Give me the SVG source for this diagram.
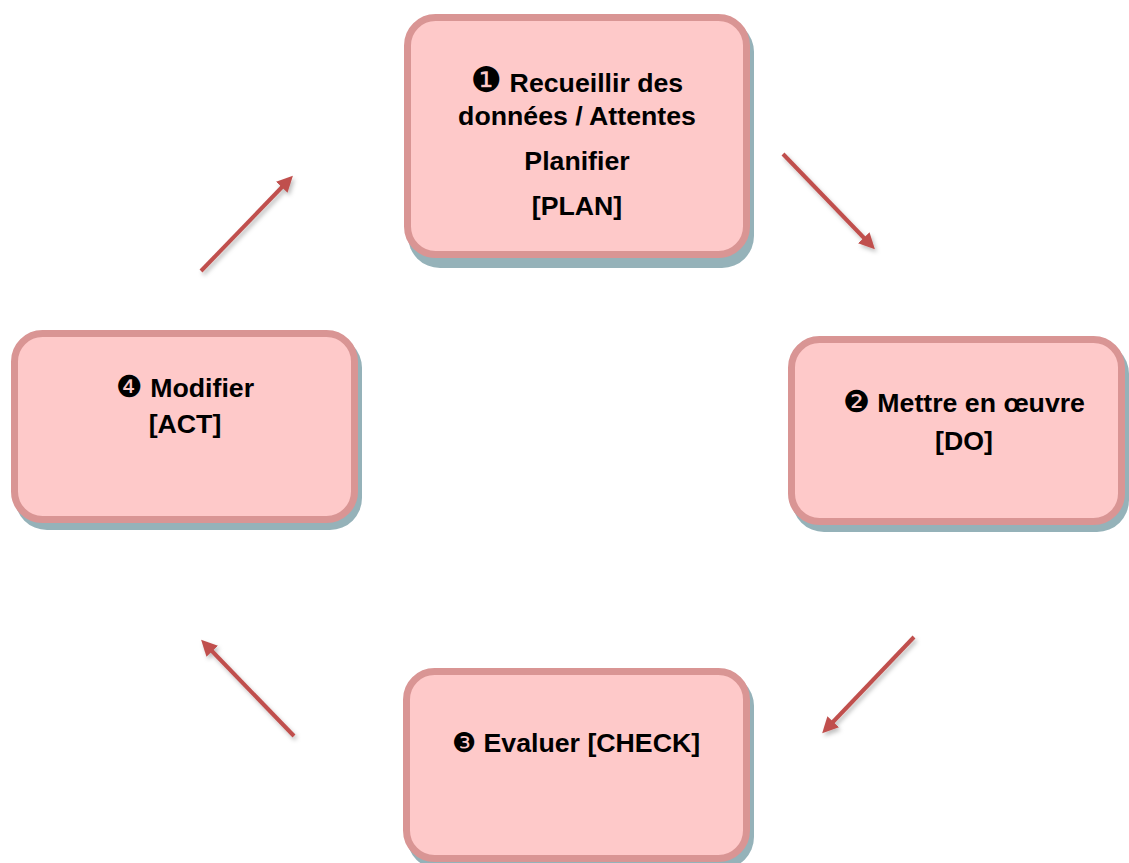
<svg xmlns="http://www.w3.org/2000/svg" width="1129" height="863" viewBox="0 0 1129 863">
<style>
.shadow{fill:#95B2B9;}
.box{fill:#FEC9C9;stroke:#D99594;stroke-width:7;}
.lbl{font-family:"Liberation Sans",Arial,sans-serif;font-weight:bold;font-size:26.7px;fill:#000;text-anchor:middle;}
.num{font-family:"DejaVu Sans",sans-serif;font-weight:normal;}
.arrow{fill:none;stroke:#C0504D;stroke-width:4;marker-end:url(#ah);filter:url(#ashadow);}
</style>
<defs>
<marker id="ah" viewBox="0 0 10 10" refX="2" refY="5" markerWidth="4" markerHeight="4" orient="auto">
<path d="M0,0 L10,5 L0,10 z" fill="#C0504D"/>
</marker>
<filter id="ashadow" x="-20%" y="-20%" width="140%" height="140%">
<feDropShadow dx="2" dy="3" stdDeviation="2" flood-color="#000" flood-opacity="0.25"/>
</filter>
</defs>
<rect width="1129" height="863" fill="#fff"/>
<g id="connectors">
<path class="arrow" d="M201,271 L284,185"/>
<path class="arrow" d="M783,154 L866,240"/>
<path class="arrow" d="M914,637 L831,724"/>
<path class="arrow" d="M294,736 L210,649"/>
</g>
<g id="plan">
<rect class="shadow" x="408" y="20" width="346" height="248" rx="32"/>
<rect class="box" x="407.5" y="17.5" width="339" height="237" rx="28"/>
<text class="lbl" x="577" y="92"><tspan class="num" font-size="35">❶</tspan> Recueillir des</text>
<text class="lbl" x="577" y="125">données / Attentes</text>
<text class="lbl" x="577" y="170">Planifier</text>
<text class="lbl" x="577" y="215">[PLAN]</text>
</g>
<g id="do">
<rect class="shadow" x="792" y="342" width="337" height="190" rx="32"/>
<rect class="box" x="791.5" y="339.5" width="330" height="182" rx="28"/>
<text class="lbl" x="964" y="412"><tspan class="num" font-size="30">❷</tspan> Mettre en œuvre</text>
<text class="lbl" x="964" y="450">[DO]</text>
</g>
<g id="check">
<rect class="shadow" x="407" y="674" width="347" height="195" rx="32"/>
<rect class="box" x="406.5" y="671.5" width="340" height="187" rx="28"/>
<text class="lbl" x="576" y="752"><tspan class="num" font-size="27">❸</tspan> Evaluer [CHECK]</text>
</g>
<g id="act">
<rect class="shadow" x="15" y="336" width="347" height="194" rx="32"/>
<rect class="box" x="14.5" y="333.5" width="340" height="186" rx="28"/>
<text class="lbl" x="185" y="397"><tspan class="num" font-size="30">❹</tspan> Modifier</text>
<text class="lbl" x="185" y="433">[ACT]</text>
</g>
</svg>
